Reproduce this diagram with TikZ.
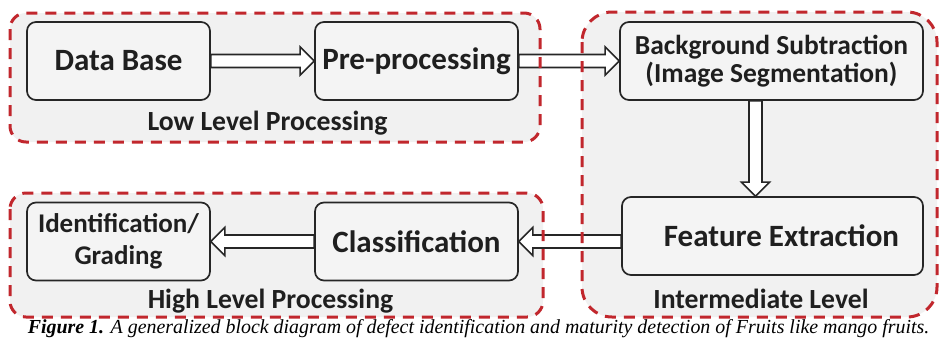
\documentclass[tikz,border=0pt]{standalone}
\usepackage{fontspec}
\setmainfont{Liberation Serif}
\newfontfamily\boxfont{Carlito}
\usetikzlibrary{positioning,calc}
\definecolor{dashred}{RGB}{193,39,45}
\definecolor{grpgray}{RGB}{241,241,241}
\definecolor{blkgray}{RGB}{244,244,244}

\begin{document}
\begin{tikzpicture}[x=1pt,y=1pt,on grid,
    blk/.style={draw=black!85,line width=1.7pt,rounded corners=9pt,fill=blkgray,
      minimum height=78pt,align=center,text=black!88,
      font=\boxfont\bfseries\fontsize{31}{34}\selectfont},
    lbl/.style={anchor=base,text=black!88,font=\boxfont\bfseries\fontsize{27.7}{30}\selectfont},
    grpfill/.style={fill=grpgray},
    grpline/.style={draw=dashred,line width=3pt,dash pattern=on 11pt off 8pt},
    fatarrow/.style={draw=black!85,fill=white,line width=1.6pt,line join=miter,
      to path={let \p1=($(\tikztotarget)!14pt!(\tikztostart)$) in
        ($(\tikztostart)!6.5pt!90:(\tikztotarget)$) -- ($(\p1)!6.5pt!90:(\tikztotarget)$)
        -- ($(\p1)!14pt!90:(\tikztotarget)$) -- (\tikztotarget)
        -- ($(\p1)!14pt!-90:(\tikztotarget)$) -- ($(\p1)!6.5pt!-90:(\tikztotarget)$)
        -- ($(\tikztostart)!6.5pt!-90:(\tikztotarget)$) -- cycle}}]
  \useasboundingbox (0,0) rectangle (939,-338);

  % grey group areas
  \coordinate (lowA) at (10,-13);   \coordinate (lowB) at (540,-142);
  \coordinate (midA) at (582,-12);  \coordinate (midB) at (937,-317);
  \coordinate (highA) at (10,-193); \coordinate (highB) at (543,-317);
  \foreach \g/\r in {low/16,mid/30,high/16}
    \fill[grpfill,rounded corners=\r pt] (\g A) rectangle (\g B);

  % blocks
  \node[blk,minimum width=183pt] (db) at (118.5,-61) {Data Base};
  \node[blk,minimum width=203pt,right=298pt of db] (pp) {Pre-processing};
  \node[blk,minimum width=303pt,right=355pt of pp,
        font=\boxfont\bfseries\fontsize{27.5}{28}\selectfont] (bs)
        {Background Subtraction\\(Image Segmentation)};
  \node[blk,minimum width=301pt,below=175pt of bs,xshift=1pt] (fe) {\hspace*{18pt}Feature Extraction};
  \node[blk,minimum width=183pt,below=180.5pt of db,
        font=\boxfont\bfseries\fontsize{27}{32}\selectfont] (id) {Identification/\\Grading};
  \node[blk,minimum width=203pt,right=298pt of id] (cl) {Classification};

  % level names
  \node[lbl] (lowlbl) at ($(db)!.5!(pp)+(0,-69)$) {Low Level Processing};
  \node[lbl] (midlbl) at ($(fe)+(-11.5,-72)$) {Intermediate Level};
  \node[lbl] (highlbl) at ($(id)!.5!(cl)+(3,-66.5)$) {High Level Processing};

  % hollow arrows
  \draw[fatarrow] (db.east) to (pp.west);
  \draw[fatarrow] (pp.east) to (bs.west);
  \draw[fatarrow] ([xshift=-16pt]bs.south) to ([xshift=-16pt]bs.south |- fe.north);
  \draw[fatarrow] (cl.east -| fe.west) to (cl.east);
  \draw[fatarrow] (cl.west) to (id.east);

  % red dashed outlines
  \foreach \g/\r in {low/16,mid/30,high/16}
    \draw[grpline,rounded corners=\r pt] (\g A) rectangle (\g B);

  \node[anchor=base,font=\fontsize{19.9}{21}\selectfont\itshape] (caption) at (478.5,-333)
    {\textbf{Figure 1.} A generalized block diagram of defect identification and maturity detection of Fruits like mango fruits.};
\end{tikzpicture}
\end{document}
